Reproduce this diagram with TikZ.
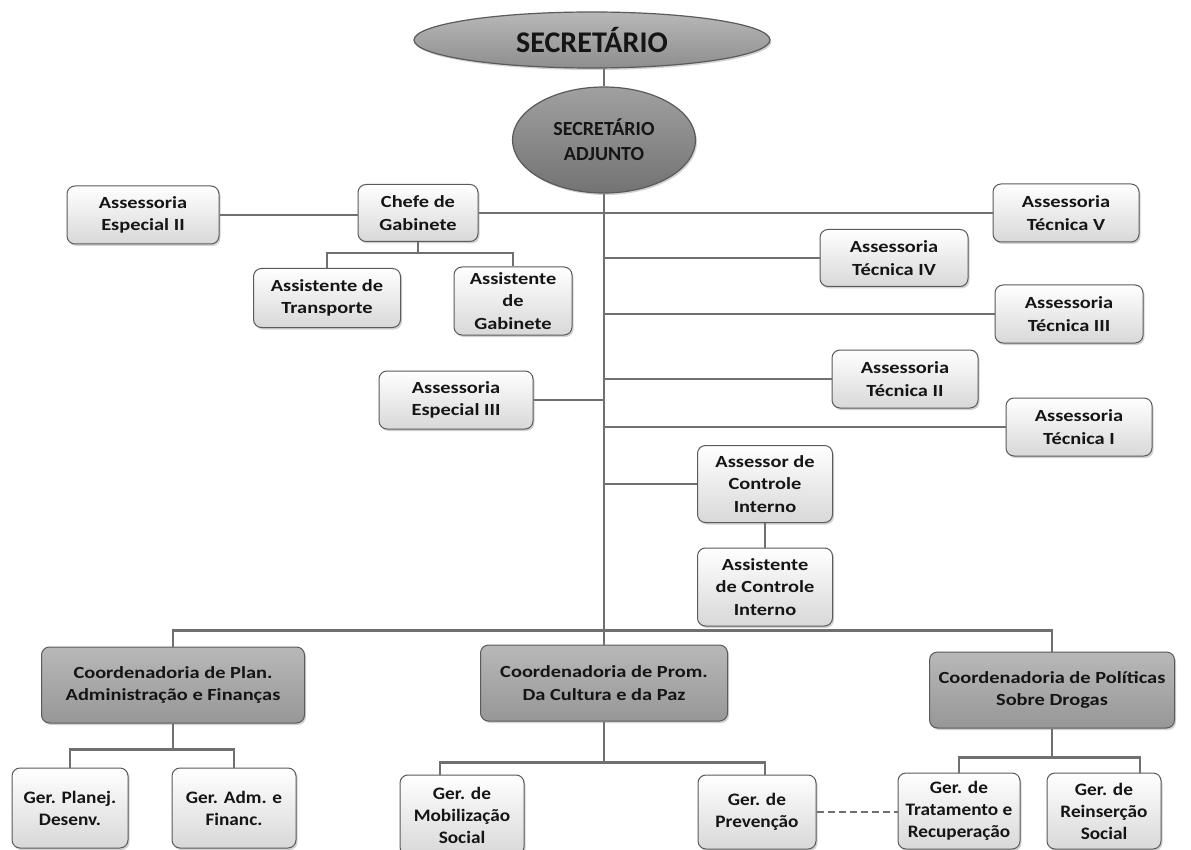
\documentclass[tikz,border=0pt]{standalone}
\usepackage{fontspec}
\setmainfont{Carlito}
\newfontfamily\boxfont[FakeStretch=1.2]{Carlito}
\newfontfamily\gerfont[FakeStretch=1.1]{Carlito}
\usetikzlibrary{shapes.geometric,shadows}
\definecolor{ln}{HTML}{707070}
\definecolor{bd}{HTML}{5A5A5A}
\definecolor{txt}{HTML}{151515}
\definecolor{boxbot}{HTML}{D8D8D8}
\definecolor{coordtop}{HTML}{B8B8B8}
\definecolor{coordbot}{HTML}{979797}
\definecolor{elltop}{HTML}{B8B8B8}
\definecolor{ellbot}{HTML}{8E8E8E}
\definecolor{adjtop}{HTML}{A0A0A0}
\definecolor{adjbot}{HTML}{737373}
\begin{document}
\begin{tikzpicture}[x=1pt,y=-1pt,
  conn/.style={draw=ln, line width=2.2pt},
  sz/.style 2 args={minimum width=#1pt, minimum height=#2pt},
  box/.style={draw=bd, line width=1pt, rounded corners=8pt, top color=white, bottom color=boxbot,
    align=center, text=txt, inner sep=2pt,
    font=\boxfont\bfseries\fontsize{17}{22.5}\selectfont,
    drop shadow={shadow xshift=1.5pt, shadow yshift=-2pt, opacity=0.35}},
  coord/.style={box, top color=coordtop, bottom color=coordbot},
  ger/.style={box, font=\gerfont\bfseries\fontsize{17.5}{22}\selectfont},
  ell/.style={ellipse, draw=bd, line width=1.2pt, inner sep=0pt, align=center, text=txt,
    top color=elltop, bottom color=ellbot,
    drop shadow={shadow xshift=1.5pt, shadow yshift=-2pt, opacity=0.35}},
]
\useasboundingbox (0,0) rectangle (1191,850);
\fill[white] (0,0) rectangle (1191,850);

% ellipses
\node[ell, sz={356}{56}, font=\bfseries\fontsize{30}{36}\selectfont] (sec) at (592,40) {SECRETÁRIO};
\node[ell, sz={183}{106}, top color=adjtop, bottom color=adjbot, font=\bfseries\fontsize{20}{25}\selectfont] (adj) at (604,140) {SECRETÁRIO\\ADJUNTO};

% upper boxes
\node[box, sz={152}{58}] (esp2) at (143,215) {Assessoria\\Especial II};
\node[box, sz={120}{57}] (chefe) at (418,213) {Chefe de\\Gabinete};
\node[box, sz={147}{59}] (transp) at (327,298) {Assistente de\\Transporte};
\node[box, sz={118}{68}] (assgab) at (513,301) {Assistente\\de\\Gabinete};
\node[box, sz={146}{58}] (tecV) at (1066,213) {Assessoria\\Técnica V};
\node[box, sz={148}{57}] (tecIV) at (894,258) {Assessoria\\Técnica IV};
\node[box, sz={148}{58}] (tecIII) at (1069,314) {Assessoria\\Técnica III};
\node[box, sz={154}{58}] (esp3) at (456,400) {Assessoria\\Especial III};
\node[box, sz={146}{58}] (tecII) at (905,379) {Assessoria\\Técnica II};
\node[box, sz={146}{58}] (tecI) at (1079,427) {Assessoria\\Técnica I};
\node[box, sz={135}{77}] (assCI) at (765,484) {Assessor de\\Controle\\Interno};
\node[box, sz={135}{78}] (asstCI) at (765,587) {Assistente\\de Controle\\Interno};

% coordinations
\node[coord, sz={263}{76}] (coordPlan) at (173,685) {Coordenadoria de Plan.\\Administração e Finanças};
\node[coord, sz={247}{76}] (coordProm) at (604,683) {Coordenadoria de Prom.\\Da Cultura e da Paz};
\node[coord, sz={245}{76}] (coordPol) at (1052,690) {Coordenadoria de Políticas\\Sobre Drogas};

% gerencias
\node[ger, sz={116}{80}] (gPlan) at (70,808) {Ger. Planej.\\Desenv.};
\node[ger, sz={124}{80}] (gAdm) at (234,808) {Ger. Adm. e\\Financ.};
\node[ger, sz={124}{80}] (gMob) at (462,815) {Ger. de\\Mobilização\\Social};
\node[ger, sz={118}{74}] (gPrev) at (757,812) {Ger. de\\Prevenção};
\node[ger, sz={122}{76}] (gTrat) at (959,811) {Ger. de\\Tratamento e\\Recuperação};
\node[ger, sz={114}{76}] (gRein) at (1104,811) {Ger. de\\Reinserção\\Social};

% connectors
\draw[conn] (adj.north |- sec.south) -- (adj.north);
\draw[conn] (adj.south) -- (coordProm.north);
\draw[conn] (esp2.east) -- (chefe.west |- esp2.east);
\draw[conn] (chefe.east) -- (tecV.west |- chefe.east);
\coordinate (cgb) at ([yshift=-11pt]chefe.south);
\draw[conn] (chefe.south) -- (cgb);
\draw[conn] (transp.north) |- (cgb) -| (assgab.north);
\draw[conn] (adj.south |- tecIV.west) -- (tecIV.west);
\draw[conn] (adj.south |- tecIII.west) -- (tecIII.west);
\draw[conn] (adj.south |- tecII.west) -- (tecII.west);
\draw[conn] (adj.south |- tecI.west) -- (tecI.west);
\draw[conn] (esp3.east) -- (adj.south |- esp3.east);
\draw[conn] (adj.south |- assCI.west) -- (assCI.west);
\draw[conn] (assCI.south) -- (asstCI.north);
\coordinate (bar) at ([yshift=14pt]coordProm.north);
\draw[conn] (coordPlan.north) |- (bar) -| (coordPol.north);
\coordinate (cpb) at ([yshift=-26pt]coordPlan.south);
\draw[conn] (coordPlan.south) -- (cpb);
\draw[conn] (gPlan.north) |- (cpb) -| (gAdm.north);
\coordinate (cqb) at ([yshift=-41pt]coordProm.south);
\draw[conn] (coordProm.south) -- (cqb);
\draw[conn] ([xshift=-22pt]gMob.north) |- (cqb) -| ([xshift=8pt]gPrev.north);
\coordinate (crb) at ([yshift=-29pt]coordPol.south);
\draw[conn] (coordPol.south) -- (crb);
\draw[conn] (gTrat.north) |- (crb) -| ([xshift=36pt]gRein.north);
\draw[conn, dash pattern=on 7pt off 4pt] (gPrev.east) -- (gTrat.west |- gPrev.east);
\end{tikzpicture}
\end{document}
